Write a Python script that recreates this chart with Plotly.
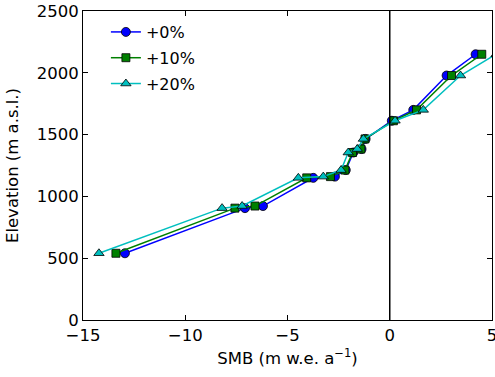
import plotly.graph_objects as go

elevation = [540, 905, 922, 1150, 1160, 1213, 1355, 1383, 1465, 1612, 1700, 1978, 2150]
smb_0 = [-12.95, -7.08, -6.20, -3.74, -2.68, -2.15, -1.78, -1.38, -1.18, 0.10, 1.15, 2.78, 4.20]
smb_10 = [-13.39, -7.57, -6.59, -4.06, -2.90, -2.19, -1.82, -1.41, -1.21, 0.18, 1.31, 3.02, 4.50]
smb_20 = [-14.22, -8.20, -7.22, -4.47, -3.25, -2.38, -2.03, -1.59, -1.29, 0.26, 1.64, 3.46, 5.20]
labels = ["+0%", "+10%", "+20%"]
colors = ["#0000ff", "#008000", "#00bfbf"]
symbols = ["circle", "square", "triangle-up"]
sizes = [9, 8, 9]

fig = go.Figure()
for xs, lab, c, s, sz in zip([smb_0, smb_10, smb_20], labels, colors, symbols, sizes):
    fig.add_trace(go.Scatter(
        x=xs, y=elevation, mode="lines+markers", name=lab, legendgroup=lab,
        line=dict(color=c, width=1.5),
        marker=dict(symbol=s, size=sz, color=c, line=dict(color="black", width=0.8)),
        cliponaxis=True,
    ))

fig.add_shape(type="line", x0=0, x1=0, y0=0, y1=1, xref="x", yref="paper",
              line=dict(color="black", width=1.5))

font = "DejaVu Sans"
fs = 16.5
fig.update_layout(
    width=495, height=377,
    margin=dict(l=83, r=3, t=11, b=57),
    paper_bgcolor="white", plot_bgcolor="white",
    font=dict(family=font, size=fs, color="black"),
    showlegend=True,
    legend=dict(x=0.056, y=0.987, xanchor="left", yanchor="top",
                bgcolor="rgba(0,0,0,0)", font=dict(size=16),
                traceorder="grouped", tracegroupgap=2),
    xaxis=dict(range=[-15, 5], dtick=5, ticks="inside", ticklen=5, tickcolor="black",
               showline=True, linecolor="black", linewidth=1, mirror="ticks",
               showgrid=False, zeroline=False, automargin=False,
               ticklabeloverflow="allow",
               tickfont=dict(size=fs),
               title=dict(text="SMB (m w.e. a<sup>−1</sup>)", font=dict(size=fs), standoff=8)),
    yaxis=dict(range=[0, 2500], dtick=500, ticks="inside", ticklen=5, tickcolor="black",
               showline=True, linecolor="black", linewidth=1, mirror="ticks",
               showgrid=False, zeroline=False, automargin=False,
               ticklabeloverflow="allow",
               tickfont=dict(size=fs),
               title=dict(text="Elevation (m a.s.l.)", font=dict(size=fs), standoff=13)),
)
# remove the default 8px page margin so the figure sits at the window's top-left corner
fig.write_html("out.html", config={"displayModeBar": False},
               post_script="document.body.style.margin='0';")
